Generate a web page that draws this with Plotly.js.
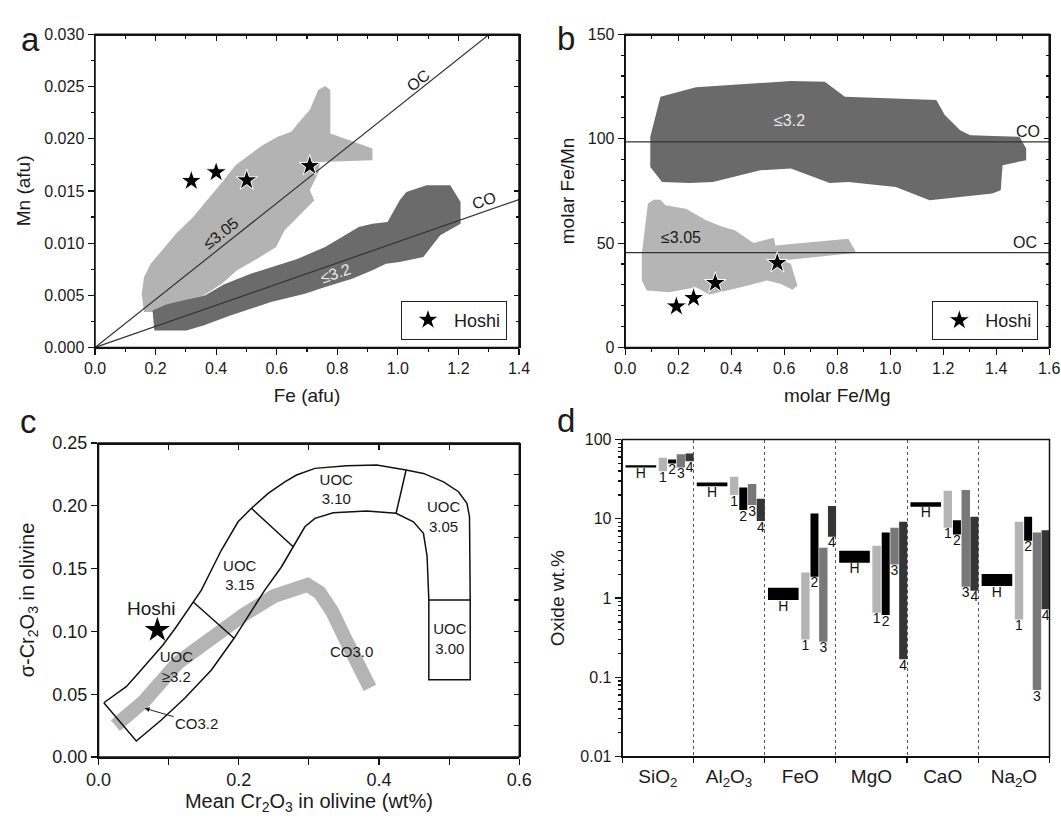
<!DOCTYPE html>
<html>
<head>
<meta charset="utf-8">
<script src="https://cdn.plot.ly/plotly-3.0.1.min.js"></script>
<style>html,body{margin:0;padding:0;background:#fff;}#chart{width:1061px;height:822px;}</style>
</head>
<body>
<div id="chart"></div>
<script>
// ---------- Panel a : Mn vs Fe (afu) ----------
const aLightX = [0.162,0.154,0.162,0.184,0.212,0.268,0.324,0.380,0.425,0.464,0.508,0.553,0.603,0.648,0.670,0.709,0.737,0.760,0.777,0.777,0.916,0.916,0.743,0.737,0.709,0.724,0.670,0.626,0.598,0.536,0.469,0.419,0.358,0.313,0.235,0.190];
const aLightY = [0.00339,0.00515,0.00675,0.00803,0.00899,0.01091,0.01250,0.01442,0.01602,0.01746,0.01842,0.01938,0.02018,0.02066,0.02146,0.02274,0.02466,0.02504,0.02466,0.02050,0.01906,0.01794,0.01778,0.01666,0.01506,0.01410,0.01250,0.01122,0.00963,0.00851,0.00739,0.00611,0.00499,0.00467,0.00403,0.00339];
const aDarkX = [0.190,0.235,0.313,0.363,0.425,0.514,0.603,0.670,0.760,0.827,0.871,0.916,0.966,1.006,1.028,1.095,1.173,1.207,1.207,1.140,1.084,1.006,0.961,0.916,0.849,0.760,0.693,0.581,0.514,0.447,0.358,0.302,0.196];
const aDarkY = [0.00355,0.00413,0.00467,0.00499,0.00604,0.00707,0.00787,0.00851,0.00963,0.01075,0.01155,0.01186,0.01202,0.01410,0.01490,0.01554,0.01554,0.01394,0.01186,0.01075,0.00867,0.00819,0.00803,0.00739,0.00659,0.00579,0.00515,0.00435,0.00371,0.00307,0.00211,0.00163,0.00163];
const aOCLineX = [0, 1.302];
const aOCLineY = [0, 0.030];
const aCOLineX = [0, 1.4];
const aCOLineY = [0, 0.01417];
const aHoshiFe = [0.318, 0.400, 0.501, 0.709];
const aHoshiMn = [0.01596, 0.01679, 0.01602, 0.01740];

// ---------- Panel b : Fe/Mn vs Fe/Mg ----------
const bDarkX = [0.0946,0.133,0.267,0.625,0.753,0.829,1.174,1.206,1.264,1.302,1.488,1.513,1.513,1.424,1.417,1.385,1.149,1.021,0.842,0.772,0.625,0.510,0.331,0.242,0.139,0.0946];
const bDarkY = [100.9,120.1,124.6,127.6,127.3,120.1,118.5,111.3,104.1,101.7,100.9,95.3,89.7,87.3,75.3,73.7,70.5,76.9,79.3,78.8,85.7,84.9,79.3,78.8,79.3,86.5];
const bLightX = [0.0856,0.107,0.133,0.152,0.229,0.305,0.369,0.414,0.484,0.561,0.567,0.842,0.868,0.868,0.593,0.625,0.650,0.631,0.586,0.535,0.414,0.318,0.267,0.165,0.0818,0.0626,0.0626];
const bLightY = [68.9,70.8,70.8,68.1,66.5,60.9,57.7,56.1,50.1,52.6,48.9,52.1,46.5,45.3,41.7,40.1,29.7,27.7,30.5,32.1,28.1,25.4,28.9,26.5,27.3,32.1,44.9];
const bCOLineX = [0, 1.6];
const bCOLineY = [98.5, 98.5];
const bOCLineX = [0, 1.6];
const bOCLineY = [45.4, 45.4];
const bHoshiFeMg = [0.193, 0.258, 0.340, 0.574];
const bHoshiFeMn = [19.7, 23.7, 30.9, 40.5];

// ---------- Panel c : sigma-Cr2O3 vs mean Cr2O3 ----------
const cUOCX = [0.0076,0.0396,0.0586,0.0919,0.1110,0.1347,0.1467,0.1633,0.1753,0.1990,0.2181,0.2419,0.2657,0.2824,0.3086,0.3539,0.3967,0.4386,0.4633,0.4919,0.5133,0.5253,0.5290,0.530,0.530,0.471,0.471,0.4685,0.4633,0.4490,0.4243,0.3824,0.3347,0.3086,0.2943,0.2776,0.2610,0.2371,0.2133,0.1933,0.1610,0.1229,0.0896,0.0539,0.0076];
const cUOCY = [0.0432,0.0560,0.0679,0.0892,0.1037,0.1236,0.1329,0.1515,0.1648,0.1873,0.1980,0.2099,0.2191,0.2245,0.2298,0.2319,0.2324,0.2285,0.2258,0.2191,0.2112,0.2019,0.1913,0.125,0.0616,0.0616,0.125,0.160,0.1781,0.1873,0.1940,0.1958,0.1945,0.1900,0.1833,0.1674,0.1515,0.1329,0.1117,0.0945,0.0693,0.0467,0.0295,0.0127,0.0432];
const cDividerX = [0.1347,0.1933,null,0.2181,0.2776,null,0.4386,0.4243,null,0.471,0.530];
const cDividerY = [0.1236,0.0945,null,0.1980,0.1674,null,0.2285,0.1940,null,0.125,0.125];
const cCOX = [0.024,0.066,0.113,0.161,0.209,0.250,0.278,0.298,0.315,0.333,0.352,0.370,0.387];
const cCOY = [0.025,0.045,0.075,0.096,0.114,0.128,0.135,0.137,0.131,0.116,0.094,0.074,0.055];
const cHoshiX = [0.0839];
const cHoshiY = [0.1011];
const cLabels = ['UOC<br>3.10','UOC<br>3.05','UOC<br>3.15','UOC<br>≥3.2','UOC<br>3.00','CO3.0'];
const cLabelX = [0.339,0.492,0.2014,0.111,0.501,0.361];
const cLabelY = [0.212,0.190,0.1435,0.0706,0.0931,0.0825];

// ---------- Panel d : oxide ranges (log) ----------
const oxides = ['SiO<sub>2</sub>','Al<sub>2</sub>O<sub>3</sub>','FeO','MgO','CaO','Na<sub>2</sub>O'];
const hLow  = [44.4, 25.8, 0.944, 2.79, 14.2, 1.42];
const hHigh = [47.4, 28.7, 1.35, 3.96, 16.2, 2.01];
const s1Low  = [39.9, 19.9, 0.301, 0.653, 7.71, 0.538];
const s1High = [58.8, 33.8, 2.11, 4.57, 22.5, 9.16];
const s2Low  = [49.8, 12.9, 1.86, 0.611, 6.35, 5.28];
const s2High = [56.0, 24.8, 11.7, 6.72, 9.62, 10.6];
const s3Low  = [44.4, 14.9, 0.282, 2.66, 1.39, 0.0692];
const s3High = [65.3, 27.4, 4.31, 7.71, 23.0, 6.72];
const s4Low  = [53.3, 9.35, 5.93, 0.169, 1.24, 0.726];
const s4High = [66.7, 17.9, 14.5, 9.16, 10.6, 7.19];
const seriesNames = ['H','1','2','3','4'];

// ---------- layout helpers ----------
const W = 1061, H = 822;
const dom = (x0, x1, y0, y1) => ({x: [x0 / W, x1 / W], y: [1 - y1 / H, 1 - y0 / H]});
const A = dom(95, 519, 34.3, 347.5);
const B = dom(625.2, 1049.2, 34.3, 347.5);
const C = dom(98.5, 519.3, 443, 757);
const D = dom(622.2, 1049.5, 439.5, 756.7);
const INK = '#1a1a1a';

const traces = [];
// a
traces.push({type:'scatter', x:aLightX, y:aLightY, xaxis:'x', yaxis:'y', mode:'lines', fill:'toself', fillcolor:'#b3b3b3', line:{width:0}, showlegend:false, hoverinfo:'skip'});
traces.push({type:'scatter', x:aDarkX, y:aDarkY, xaxis:'x', yaxis:'y', mode:'lines', fill:'toself', fillcolor:'#6b6b6b', line:{width:0}, showlegend:false, hoverinfo:'skip'});
traces.push({type:'scatter', x:aOCLineX, y:aOCLineY, xaxis:'x', yaxis:'y', mode:'lines', line:{color:'#333', width:1.2}, showlegend:false, hoverinfo:'skip'});
traces.push({type:'scatter', x:aCOLineX, y:aCOLineY, xaxis:'x', yaxis:'y', mode:'lines', line:{color:'#333', width:1.2}, showlegend:false, hoverinfo:'skip'});
traces.push({type:'scatter', x:aHoshiFe, y:aHoshiMn, xaxis:'x', yaxis:'y', mode:'markers', name:'Hoshi', legend:'legend', marker:{symbol:'star', size:16, color:'#000', line:{color:'#fff', width:1}}});
// b
traces.push({type:'scatter', x:bDarkX, y:bDarkY, xaxis:'x2', yaxis:'y2', mode:'lines', fill:'toself', fillcolor:'#6a6a6a', line:{width:0}, showlegend:false, hoverinfo:'skip'});
traces.push({type:'scatter', x:bLightX, y:bLightY, xaxis:'x2', yaxis:'y2', mode:'lines', fill:'toself', fillcolor:'#b5b5b5', line:{width:0}, showlegend:false, hoverinfo:'skip'});
traces.push({type:'scatter', x:bCOLineX, y:bCOLineY, xaxis:'x2', yaxis:'y2', mode:'lines', line:{color:'#333', width:1.2}, showlegend:false, hoverinfo:'skip'});
traces.push({type:'scatter', x:bOCLineX, y:bOCLineY, xaxis:'x2', yaxis:'y2', mode:'lines', line:{color:'#333', width:1.2}, showlegend:false, hoverinfo:'skip'});
traces.push({type:'scatter', x:bHoshiFeMg, y:bHoshiFeMn, xaxis:'x2', yaxis:'y2', mode:'markers', name:'Hoshi', legend:'legend2', marker:{symbol:'star', size:16, color:'#000', line:{color:'#fff', width:1}}});
// c
traces.push({type:'scatter', x:cCOX, y:cCOY, xaxis:'x3', yaxis:'y3', mode:'lines', line:{color:'#b4b4b4', width:14}, showlegend:false, hoverinfo:'skip'});
traces.push({type:'scatter', x:cUOCX, y:cUOCY, xaxis:'x3', yaxis:'y3', mode:'lines', line:{color:'#111', width:1.5}, showlegend:false, hoverinfo:'skip'});
traces.push({type:'scatter', x:cDividerX, y:cDividerY, xaxis:'x3', yaxis:'y3', mode:'lines', connectgaps:false, line:{color:'#111', width:1.5}, showlegend:false, hoverinfo:'skip'});
traces.push({type:'scatter', x:cHoshiX, y:cHoshiY, xaxis:'x3', yaxis:'y3', mode:'markers', marker:{symbol:'star', size:19, color:'#000'}, showlegend:false, hoverinfo:'skip'});
traces.push({type:'scatter', x:cLabelX, y:cLabelY, xaxis:'x3', yaxis:'y3', mode:'text', text:cLabels, textfont:{size:15, color:INK}, textposition:'middle center', showlegend:false, hoverinfo:'skip'});
// d
const groupIdx = oxides.map((_, i) => i);
const seriesDefs = [
  {name:'H', lo:hLow, hi:hHigh, color:'#000000', off:0.262, w:0.43},
  {name:'1', lo:s1Low, hi:s1High, color:'#b4b4b4', off:0.572, w:0.118},
  {name:'2', lo:s2Low, hi:s2High, color:'#000000', off:0.700, w:0.112},
  {name:'3', lo:s3Low, hi:s3High, color:'#787878', off:0.824, w:0.118},
  {name:'4', lo:s4Low, hi:s4High, color:'#353535', off:0.946, w:0.114}
];
seriesDefs.forEach(s => {
  const xs = groupIdx.map(i => i + s.off);
  traces.push({type:'bar', x:xs, base:s.lo, y:s.hi.map((v, k) => v - s.lo[k]), width:xs.map(() => s.w),
    xaxis:'x4', yaxis:'y4', marker:{color:s.color, line:{width:0}}, showlegend:false, hoverinfo:'skip'});
  traces.push({type:'scatter', x:xs, y:s.lo, xaxis:'x4', yaxis:'y4', mode:'text', text:xs.map(() => s.name),
    textposition:'bottom center', textfont:{size:14, color:'#111'}, showlegend:false, hoverinfo:'skip', cliponaxis:false});
});
// empty helper traces so that the overlaid (mirror / label) axes get drawn
[['x5','y'],['x','y5'],['x6','y2'],['x2','y6'],['x7','y3'],['x3','y7'],['x8','y4']].forEach(p => {
  traces.push({type:'scatter', x:[], y:[], xaxis:p[0], yaxis:p[1], mode:'markers', showlegend:false, hoverinfo:'skip'});
});

// minor log ticks for panel d (2..9 in every decade)
const logMinor = [];
[0.01, 0.1, 1, 10].forEach(d => { for (let k = 2; k <= 9; k++) logMinor.push(+(d * k).toPrecision(3)); });

const lineStyle = {showline:true, linecolor:'#111', linewidth:1.5, showgrid:false, zeroline:false, tickcolor:'#111', tickwidth:1.2};
function mainAxis(extra){ return Object.assign({}, lineStyle, {ticks:'outside', ticklen:6, tickfont:{size:16, color:INK}}, extra); }
function mirrorAxis(extra){ return Object.assign({}, lineStyle, {ticks:'inside', ticklen:5, showticklabels:false, anchor:'free'}, extra); }
const titleFont = {size:19, color:INK};

// frame boxes (panel borders)
const frames = ['', '2', '3', '4'].map(n => ({type:'rect', xref:'x' + n + ' domain', yref:'y' + n + ' domain', x0:0, x1:1, y0:0, y1:1,
  line:{color:'#111', width:1.5}, fillcolor:'rgba(0,0,0,0)', layer:'above'}));

const layout = {
  width:W, height:H, margin:{l:0, r:0, t:0, b:0}, paper_bgcolor:'#fff', plot_bgcolor:'rgba(0,0,0,0)',
  font:{family:'Liberation Sans, Arial, sans-serif', color:INK}, hovermode:false, barmode:'overlay',
  shapes: frames,
  // a
  xaxis: mainAxis({domain:A.x, anchor:'y', range:[0,1.4], tick0:0, dtick:0.2, tickformat:'.1f',
    minor:{dtick:0.1, ticklen:3, ticks:'outside', tickcolor:'#111'}, title:{text:'Fe (afu)', font:titleFont, standoff:12}}),
  yaxis: mainAxis({domain:A.y, anchor:'x', range:[0,0.03], tick0:0, dtick:0.005, tickformat:'.3f',
    minor:{dtick:0.0025, ticklen:3, ticks:'outside', tickcolor:'#111'}, title:{text:'Mn (afu)', font:titleFont, standoff:8}}),
  xaxis5: mirrorAxis({overlaying:'x', side:'top', position:A.y[1], range:[0,1.4], tick0:0, dtick:0.2,
    minor:{dtick:0.1, ticklen:3, ticks:'inside', tickcolor:'#111'}}),
  yaxis5: mirrorAxis({overlaying:'y', side:'right', position:A.x[1], range:[0,0.03], tick0:0, dtick:0.005,
    minor:{dtick:0.0025, ticklen:3, ticks:'inside', tickcolor:'#111'}}),
  // b
  xaxis2: mainAxis({domain:B.x, anchor:'y2', range:[0,1.6], tick0:0, dtick:0.2, tickformat:'.1f',
    minor:{dtick:0.1, ticklen:3, ticks:'outside', tickcolor:'#111'}, title:{text:'molar Fe/Mg', font:titleFont, standoff:12}}),
  yaxis2: mainAxis({domain:B.y, anchor:'x2', range:[0,150], tick0:0, dtick:50,
    minor:{dtick:10, ticklen:3, ticks:'outside', tickcolor:'#111'}, title:{text:'molar Fe/Mn', font:titleFont, standoff:8}}),
  xaxis6: mirrorAxis({overlaying:'x2', side:'top', position:B.y[1], range:[0,1.6], tick0:0, dtick:0.2,
    minor:{dtick:0.1, ticklen:3, ticks:'inside', tickcolor:'#111'}}),
  yaxis6: mirrorAxis({overlaying:'y2', side:'right', position:B.x[1], range:[0,150], tick0:0, dtick:50,
    minor:{dtick:10, ticklen:3, ticks:'inside', tickcolor:'#111'}}),
  // c
  xaxis3: mainAxis({domain:C.x, anchor:'y3', range:[0,0.6], tick0:0, dtick:0.2, tickformat:'.1f', tickfont:{size:18, color:INK},
    minor:{dtick:0.1, ticklen:6, ticks:'outside', tickcolor:'#111'}, title:{text:'Mean Cr<sub>2</sub>O<sub>3</sub> in olivine (wt%)', font:{size:20, color:INK}, standoff:4}}),
  yaxis3: mainAxis({domain:C.y, anchor:'x3', range:[0,0.25], tick0:0, dtick:0.05, tickformat:'.2f', tickfont:{size:18, color:INK},
    title:{text:'σ-Cr<sub>2</sub>O<sub>3</sub> in olivine', font:{size:20, color:INK}, standoff:12}}),
  xaxis7: mirrorAxis({overlaying:'x3', side:'top', position:C.y[1], range:[0,0.6], tick0:0, dtick:0.1}),
  yaxis7: mirrorAxis({overlaying:'y3', side:'right', position:C.x[1], range:[0,0.25], tick0:0, dtick:0.025}),
  // d
  xaxis4: Object.assign({}, lineStyle, {domain:D.x, anchor:'y4', range:[0,6], tickmode:'array', tickvals:[0,1,2,3,4,5,6],
    showticklabels:false, ticks:'outside', ticklen:5, showgrid:true, gridcolor:'#555', griddash:'dot', gridwidth:1}),
  xaxis8: {overlaying:'x4', anchor:'y4', side:'bottom', range:[0,6], tickmode:'array', tickvals:[0.5,1.5,2.5,3.5,4.5,5.5],
    ticktext:oxides, ticks:'', showline:false, showgrid:false, zeroline:false, tickfont:{size:19, color:INK}, ticklabelstandoff:6},
  yaxis4: Object.assign({}, lineStyle, {domain:D.y, anchor:'x4', type:'log', range:[-2,2], tickmode:'array',
    tickvals:[0.01,0.1,1,10,100], ticktext:['0.01','0.1','1','10','100'], ticks:'outside', ticklen:6,
    tickfont:{size:16, color:INK}, minor:{tickmode:'array', tickvals:logMinor, ticklen:3, ticks:'outside', tickcolor:'#111'},
    title:{text:'Oxide wt.%', font:titleFont, standoff:10}}),
  legend: {x:507/W, xanchor:'right', y:1 - 339.5/H, yanchor:'bottom', bgcolor:'#fff', bordercolor:'#222', borderwidth:1,
    font:{size:18, color:INK}, itemwidth:42},
  legend2: {x:1038.3/W, xanchor:'right', y:1 - 340/H, yanchor:'bottom', bgcolor:'#fff', bordercolor:'#222', borderwidth:1,
    font:{size:18, color:INK}, itemwidth:42},
  annotations: [
    {xref:'paper', yref:'paper', x:19/W, y:1 - 19/H, text:'a', showarrow:false, font:{size:33, color:INK}},
    {xref:'paper', yref:'paper', x:566/W, y:1 - 18/H, text:'b', showarrow:false, font:{size:33, color:INK}},
    {xref:'paper', yref:'paper', x:18/W, y:1 - 421/H, text:'c', showarrow:false, font:{size:33, color:INK}},
    {xref:'paper', yref:'paper', x:566/W, y:1 - 420/H, text:'d', showarrow:false, font:{size:33, color:INK}},
    // panel a labels
    {xref:'x', yref:'y', x:1.067, y:0.0256, text:'OC', textangle:-38.5, showarrow:false, font:{size:16, color:INK}},
    {xref:'x', yref:'y', x:1.285, y:0.0141, text:'CO', textangle:-19.2, showarrow:false, font:{size:16, color:INK}},
    {xref:'x', yref:'y', x:0.415, y:0.0109, text:'≤3.05', textangle:-38.5, showarrow:false, font:{size:16, color:INK}},
    {xref:'x', yref:'y', x:0.793, y:0.0071, text:'≤3.2', textangle:-19.2, showarrow:false, font:{size:16, color:'#e8e8e8'}},
    // panel b labels
    {xref:'x2', yref:'y2', x:0.619, y:108.9, text:'≤3.2', showarrow:false, font:{size:16, color:'#e8e8e8'}},
    {xref:'x2', yref:'y2', x:0.2096, y:52.9, text:'≤3.05', showarrow:false, font:{size:16, color:INK}},
    {xref:'x2', yref:'y2', x:1.519, y:103.6, text:'CO', showarrow:false, font:{size:16, color:INK}},
    {xref:'x2', yref:'y2', x:1.507, y:50.2, text:'OC', showarrow:false, font:{size:16, color:INK}},
    // panel c labels
    {xref:'x3', yref:'y3', x:0.0753, y:0.1184, text:'Hoshi', showarrow:false, font:{size:19, color:INK}},
    {xref:'x3', yref:'y3', x:0.0657, y:0.0388, ax:52, ay:15, text:'CO3.2', showarrow:true, arrowhead:2, arrowsize:1, arrowwidth:1, arrowcolor:'#222', standoff:0, font:{size:15, color:INK}}
  ]
};

Plotly.newPlot('chart', traces, layout, {displayModeBar:false, staticPlot:true});
</script>
</body>
</html>
